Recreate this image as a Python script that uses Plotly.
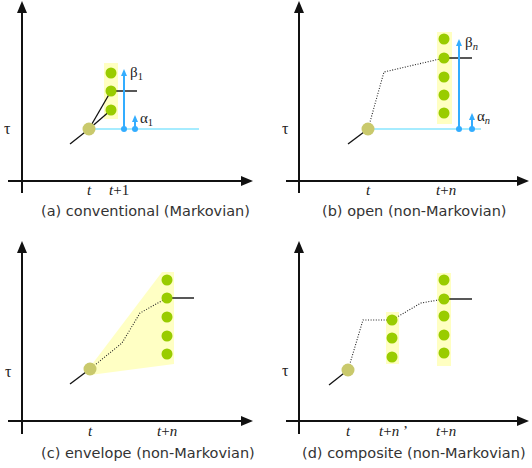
import plotly.graph_objects as go

# ---------------- data (panel-local diagram units: x = time position, y = tau position, y grows downward) -------------
panels = ["a", "b", "c", "d"]
captions = ["(a) conventional (Markovian)", "(b) open (non-Markovian)",
            "(c) envelope (non-Markovian)", "(d) composite (non-Markovian)"]
caption_pos = [(145, 211), (148, 211), (148, 219), (148, 219)]

# axes geometry per panel: (y-axis x, y-axis bottom, y-axis tip, x-axis y, x-axis left, x-axis tip)
axes_geom = [(22, 193, 1, 181, 8, 253), (33, 193, 1, 181, 20, 263),
             (22, 200, 7, 187, 8, 253), (33, 200, 7, 187, 20, 263)]
tau_pos = [(7, 128), (19, 128), (8, 137), (19, 136)]

tick_labels = [["<i>t</i>", "<i>t</i>+1"], ["<i>t</i>", "<i>t</i>+<i>n</i>"],
               ["<i>t</i>", "<i>t</i>+<i>n</i>"], ["<i>t</i>", "<i>t</i>+<i>n</i> ’", "<i>t</i>+<i>n</i>"]]
tick_x = [[89, 119], [102, 180], [90, 167], [82, 127, 180]]
tick_y = [190, 190, 197, 197]

# lead-in trajectory segment ending at the current state
lead_x = [[70, 89], [82, 102], [70, 90], [63, 82]]
lead_y = [[144, 129], [144, 129], [150, 135], [151, 136]]
start_x = [89, 102, 90, 82]
start_y = [129, 129, 135, 136]

# candidate state columns: (x, y-list, box x0, box x1, box y0, box y1)
columns = [
    [(111, [73, 91, 110], 104, 118, 63, 119)],
    [(178, [39, 58, 77, 95, 113], 171, 186, 32, 124)],
    [(167, [46, 64, 83, 102, 120], None, None, None, None)],
    [(126, [86, 104, 123], 120, 133, 78, 130), (178, [46, 65, 82, 101, 119], 171, 185, 39, 132)],
]

# solid lines from start to candidates (panel a)
solid_x = [[[89, 111], [89, 111]], [], [], []]
solid_y = [[[129, 91], [129, 110]], [], [], []]

# dotted multi-step trajectories
dot_x = [[], [102, 118, 178], [90, 122, 140, 167], [82, 97, 126, 155, 178]]
dot_y = [[], [129, 72, 58], [135, 109, 79, 64], [136, 86, 86, 69, 65]]

# chosen value continuation line
cont_x = [[111, 137], [178, 206], [167, 194], [178, 206]]
cont_y = [91, 58, 64, 65]

# envelope (panel c)
env_x = [87, 162, 174, 174, 90]
env_y = [137, 38, 38, 130, 141]

# baseline and alpha / beta arrows (panels a, b)
base_x = [[89, 199], [102, 215]]
base_y = [129, 129]
beta_x = [124, 193]
beta_top = [69, 39]
alpha_x = [135, 206]
alpha_top = [115, 113]
beta_lbl = ["β<sub>1</sub>", "β<sub><i>n</i></sub>"]
alpha_lbl = ["α<sub>1</sub>", "α<sub><i>n</i></sub>"]

GREEN = "#99cc00"
START = "#c9c96c"
BOX = "#ffffc2"
CYAN = "#a6ecff"
BLUE = "#33adff"

# ---------------- figure ----------------
fig = go.Figure()
domains = [([0, 0.5], [0.5, 1]), ([0.5, 1], [0.5, 1]), ([0, 0.5], [0, 0.5]), ([0.5, 1], [0, 0.5])]
layout = dict(width=532, height=468, margin=dict(l=0, r=0, t=0, b=0),
              paper_bgcolor="white", plot_bgcolor="white", showlegend=False)
for i, (dx, dy) in enumerate(domains):
    s = "" if i == 0 else str(i + 1)
    layout["xaxis" + s] = dict(domain=dx, range=[0, 266], visible=False, fixedrange=True)
    layout["yaxis" + s] = dict(domain=dy, range=[234, 0], visible=False, fixedrange=True)
fig.update_layout(**layout)

shapes = []
annotations = []
for i in range(4):
    s = "" if i == 0 else str(i + 1)
    xr, yr = "x" + s, "y" + s
    ax_x, ax_b, ax_t, xa_y, xa_l, xa_t = axes_geom[i]
    # axes
    shapes.append(dict(type="line", xref=xr, yref=yr, x0=ax_x, x1=ax_x, y0=ax_b, y1=ax_t + 10,
                       line=dict(color="#111", width=2)))
    shapes.append(dict(type="path", xref=xr, yref=yr,
                       path=f"M {ax_x},{ax_t} L {ax_x-5},{ax_t+12} L {ax_x+5},{ax_t+12} Z",
                       fillcolor="#111", line=dict(width=0)))
    shapes.append(dict(type="line", xref=xr, yref=yr, x0=xa_l, x1=xa_t - 10, y0=xa_y, y1=xa_y,
                       line=dict(color="#111", width=2)))
    shapes.append(dict(type="path", xref=xr, yref=yr,
                       path=f"M {xa_t},{xa_y} L {xa_t-12},{xa_y-5} L {xa_t-12},{xa_y+5} Z",
                       fillcolor="#111", line=dict(width=0)))
    # envelope
    if i == 2:
        fig.add_trace(go.Scatter(x=env_x + [env_x[0]], y=env_y + [env_y[0]], mode="lines",
                                 fill="toself", fillcolor="#ffffc4", line=dict(width=0),
                                 xaxis=xr, yaxis=yr, hoverinfo="skip"))
    # boxes
    for (cx, cy, bx0, bx1, by0, by1) in columns[i]:
        if bx0 is not None:
            shapes.append(dict(type="rect", xref=xr, yref=yr, x0=bx0, x1=bx1, y0=by0, y1=by1,
                               fillcolor=BOX, line=dict(width=0), layer="below"))
    # baseline
    if i < 2:
        fig.add_trace(go.Scatter(x=base_x[i], y=[base_y[i]] * 2, mode="lines",
                                 line=dict(color=CYAN, width=2), xaxis=xr, yaxis=yr, hoverinfo="skip"))
    # lead segment
    fig.add_trace(go.Scatter(x=lead_x[i], y=lead_y[i], mode="lines", line=dict(color="#111", width=1.3),
                             xaxis=xr, yaxis=yr, hoverinfo="skip"))
    for sx, sy in zip(solid_x[i], solid_y[i]):
        fig.add_trace(go.Scatter(x=sx, y=sy, mode="lines", line=dict(color="#111", width=1.3),
                                 xaxis=xr, yaxis=yr, hoverinfo="skip"))
    if dot_x[i]:
        fig.add_trace(go.Scatter(x=dot_x[i], y=dot_y[i], mode="lines",
                                 line=dict(color="#222", width=1.1, dash="1px,1.6px"),
                                 xaxis=xr, yaxis=yr, hoverinfo="skip"))
    fig.add_trace(go.Scatter(x=cont_x[i], y=[cont_y[i]] * 2, mode="lines",
                             line=dict(color="#111", width=1.4), xaxis=xr, yaxis=yr, hoverinfo="skip"))
    # candidate dots
    for (cx, cy, *_r) in columns[i]:
        fig.add_trace(go.Scatter(x=[cx] * len(cy), y=cy, mode="markers",
                                 marker=dict(color=GREEN, size=11, line=dict(width=0)),
                                 xaxis=xr, yaxis=yr, hoverinfo="skip"))
    fig.add_trace(go.Scatter(x=[start_x[i]], y=[start_y[i]], mode="markers",
                             marker=dict(color=START, size=13, line=dict(width=0)),
                             xaxis=xr, yaxis=yr, hoverinfo="skip"))
    # alpha / beta arrows
    if i < 2:
        for (axp, top, lbl, dxl) in [(beta_x[i], beta_top[i], beta_lbl[i], 4), (alpha_x[i], alpha_top[i], alpha_lbl[i], 3)]:
            shapes.append(dict(type="line", xref=xr, yref=yr, x0=axp, x1=axp, y0=base_y[i], y1=top + 5,
                               line=dict(color=BLUE, width=2)))
            shapes.append(dict(type="path", xref=xr, yref=yr,
                               path=f"M {axp},{top} L {axp-3},{top+7} L {axp+3},{top+7} Z",
                               fillcolor=BLUE, line=dict(width=0)))
            annotations.append(dict(x=axp + dxl, y=top + 4, xref=xr, yref=yr, text=lbl, showarrow=False,
                                    xanchor="left", yanchor="middle",
                                    font=dict(family="Liberation Serif", size=15, color="#222")))
        fig.add_trace(go.Scatter(x=[beta_x[i], alpha_x[i]], y=[base_y[i]] * 2, mode="markers",
                                 marker=dict(color=BLUE, size=6), xaxis=xr, yaxis=yr, hoverinfo="skip"))
    # tau label
    annotations.append(dict(x=tau_pos[i][0], y=tau_pos[i][1], xref=xr, yref=yr, text="τ", showarrow=False,
                            font=dict(family="Liberation Serif", size=16, color="#222")))
    # tick labels
    for tl, tx in zip(tick_labels[i], tick_x[i]):
        annotations.append(dict(x=tx, y=tick_y[i], xref=xr, yref=yr, text=tl, showarrow=False,
                                font=dict(family="Liberation Serif", size=15, color="#222")))
    # caption
    annotations.append(dict(x=caption_pos[i][0], y=caption_pos[i][1], xref=xr, yref=yr, text=captions[i],
                            showarrow=False, font=dict(family="DejaVu Sans", size=14.5, color="#333")))

fig.update_layout(shapes=shapes, annotations=annotations)
fig.write_html("out.html", config={"displayModeBar": False},
               post_script="document.body.style.margin='0';document.body.style.overflow='hidden';")
